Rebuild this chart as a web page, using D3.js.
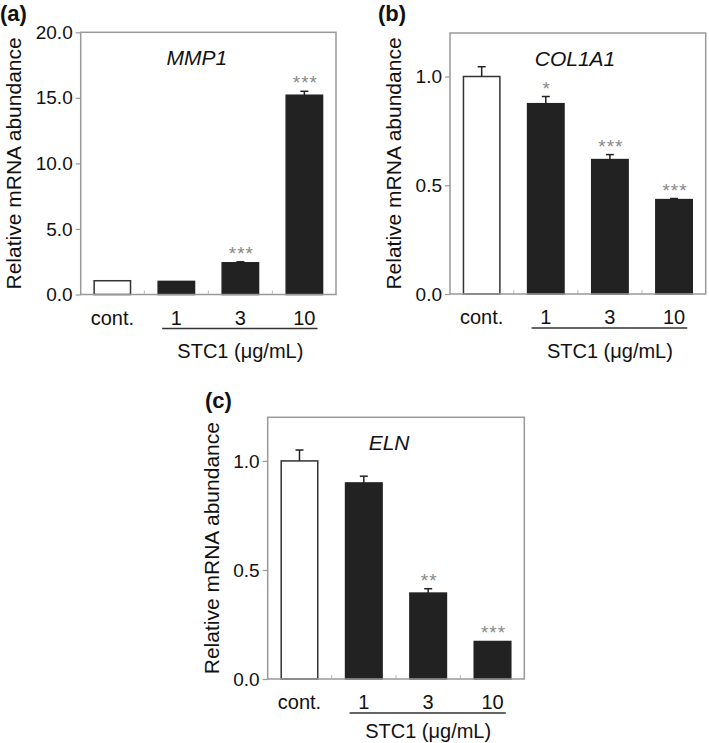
<!DOCTYPE html>
<html>
<head>
<meta charset="utf-8">
<script src="https://cdn.jsdelivr.net/npm/d3@7"></script>
<style>
  html, body { margin: 0; padding: 0; background: #fff; }
  svg { display: block; font-family: "Liberation Sans", Arial, Helvetica, sans-serif; }
</style>
</head>
<body>
<svg id="chart" width="709" height="743"></svg>
<script>
// ---- data ----
const categories = ["cont.", "1", "3", "10"];
const doseLabel = "STC1 (μg/mL)";
const yLabel = "Relative mRNA abundance";

const mmp1Values = [1.05, 1.0, 2.42, 15.2];
const mmp1Errors = [0, 0, 0.08, 0.3];
const mmp1Sig = ["", "", "***", "***"];
const mmp1Ticks = [0, 5, 10, 15, 20];

const col1a1Values = [1.0, 0.875, 0.618, 0.434];
const col1a1Errors = [0.045, 0.033, 0.023, 0.005];
const col1a1Sig = ["", "*", "***", "***"];
const col1a1Ticks = [0, 0.5, 1.0];

const elnValues = [1.0, 0.899, 0.394, 0.172];
const elnErrors = [0.05, 0.031, 0.02, 0];
const elnSig = ["", "", "**", "***"];
const elnTicks = [0, 0.5, 1.0];

// ---- layout ----
const svg = d3.select("#chart");

const panels = [
  { tag: "(a)", tagX: 0, tagY: 21, title: "MMP1", titleFrac: 0.455,
    left: 80.7, top: 32.3, right: 336, bottom: 294.5, yMax: 20, doseDy: 63.5,
    values: mmp1Values, errors: mmp1Errors, sig: mmp1Sig, ticks: mmp1Ticks, yLabelX: 13 },
  { tag: "(b)", tagX: 378, tagY: 21, title: "COL1A1", titleFrac: 0.489,
    left: 450, top: 33, right: 705.7, bottom: 294, yMax: 1.2, doseDy: 64,
    values: col1a1Values, errors: col1a1Errors, sig: col1a1Sig, ticks: col1a1Ticks, yLabelX: 393 },
  { tag: "(c)", tagX: 205, tagY: 408, title: "ELN", titleFrac: 0.473,
    left: 267.7, top: 417.3, right: 524.3, bottom: 679, yMax: 1.2, doseDy: 58.5,
    values: elnValues, errors: elnErrors, sig: elnSig, ticks: elnTicks, yLabelX: 211 }
];

panels.forEach(p => {
  const g = svg.append("g");
  const x = d3.scaleBand().domain(categories).range([p.left, p.right])
    .paddingInner(0.432).paddingOuter(0.21);
  const y = d3.scaleLinear().domain([0, p.yMax]).range([p.bottom, p.top]);
  const bw = x.bandwidth();

  // panel tag
  g.append("text").attr("x", p.tagX).attr("y", p.tagY)
    .attr("font-size", 22).attr("font-weight", "bold").attr("fill", "#111").text(p.tag);

  // y axis
  const yAxis = g.append("g").attr("transform", `translate(${p.left},0)`)
    .call(d3.axisLeft(y).tickValues(p.ticks).tickFormat(d3.format(".1f")).tickSize(5).tickPadding(3));
  yAxis.select(".domain").remove();
  yAxis.selectAll(".tick line").attr("stroke", "#999").attr("stroke-width", 1.2);
  yAxis.selectAll(".tick text").attr("font-size", 19).attr("fill", "#111")
    .attr("font-family", "'Liberation Sans', Arial, sans-serif");

  // inner ticks between bars
  const step = x.step();
  categories.slice(1).forEach(c => {
    const xm = x(c) - (step - bw) / 2;
    g.append("line").attr("x1", xm).attr("x2", xm).attr("y1", p.bottom).attr("y2", p.bottom - 4)
      .attr("stroke", "#bbb").attr("stroke-width", 1);
  });

  // bars
  categories.forEach((c, i) => {
    const v = p.values[i];
    g.append("rect").attr("x", x(c)).attr("y", y(v)).attr("width", bw).attr("height", p.bottom - y(v))
      .attr("fill", i === 0 ? "#fff" : "#222")
      .attr("stroke", i === 0 ? "#333" : "#222").attr("stroke-width", 1.5);
    const e = p.errors[i];
    const cx = x(c) + bw / 2;
    if (e > 0) {
      g.append("line").attr("x1", cx).attr("x2", cx).attr("y1", y(v)).attr("y2", y(v + e))
        .attr("stroke", "#222").attr("stroke-width", 1.5);
      g.append("line").attr("x1", cx - 4).attr("x2", cx + 4).attr("y1", y(v + e)).attr("y2", y(v + e))
        .attr("stroke", "#222").attr("stroke-width", 1.5);
    }
    if (p.sig[i]) {
      g.append("text").attr("x", cx + 1).attr("y", y(v + e) - 2)
        .attr("text-anchor", "middle").attr("font-size", 19).attr("letter-spacing", 1)
        .attr("fill", "#888").text(p.sig[i]);
    }
  });

  // frame
  g.append("rect").attr("x", p.left).attr("y", p.top)
    .attr("width", p.right - p.left).attr("height", p.bottom - p.top)
    .attr("fill", "none").attr("stroke", "#999").attr("stroke-width", 1.5);

  // title
  g.append("text").attr("x", p.left + (p.right - p.left) * p.titleFrac).attr("y", p.top + 32.5)
    .attr("text-anchor", "middle").attr("font-size", 21).attr("font-style", "italic")
    .attr("fill", "#111").text(p.title);

  // x labels
  categories.forEach(c => {
    g.append("text").attr("x", x(c) + bw / 2).attr("y", p.bottom + 30)
      .attr("text-anchor", "middle").attr("font-size", 20).attr("fill", "#111").text(c);
  });
  const x1 = x(categories[1]) + 4, x2 = x(categories[3]) + bw - 5;
  g.append("line").attr("x1", x1).attr("x2", x2).attr("y1", p.bottom + 34).attr("y2", p.bottom + 34)
    .attr("stroke", "#333").attr("stroke-width", 1.3);
  g.append("text").attr("x", (x(categories[1]) + x(categories[3]) + bw) / 2).attr("y", p.bottom + p.doseDy)
    .attr("text-anchor", "middle").attr("font-size", 20).attr("fill", "#111").text(doseLabel);

  // y label
  g.append("text").attr("transform", `translate(${p.yLabelX},${(p.top + p.bottom) / 2}) rotate(-90)`)
    .attr("text-anchor", "middle").attr("dominant-baseline", "central")
    .attr("font-size", 21).attr("fill", "#111").text(yLabel);
});
</script>
</body>
</html>
